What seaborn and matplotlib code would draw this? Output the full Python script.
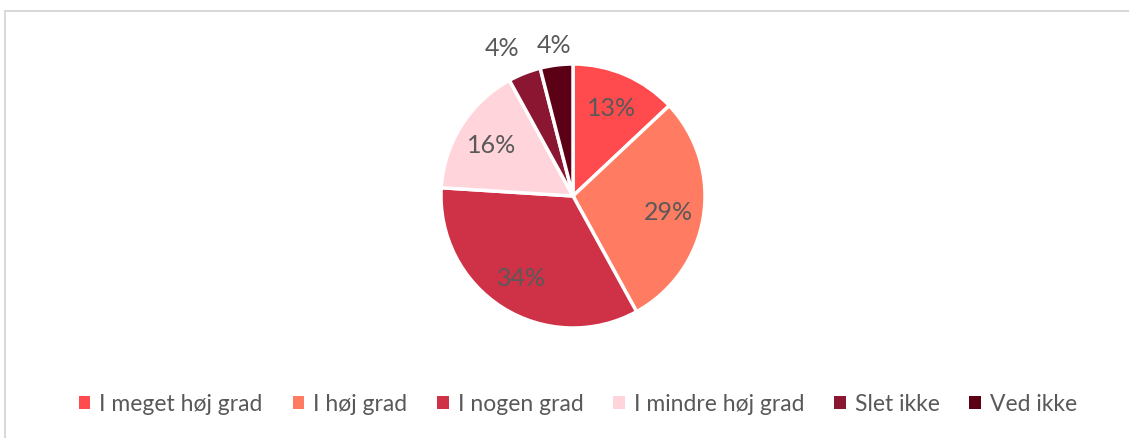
import matplotlib
matplotlib.use("Agg")
import matplotlib.pyplot as plt
import seaborn as sns
import numpy as np
from matplotlib.patches import Patch, Rectangle

# ── Datos ─────────────────────────────────────────────────────────────────────
categories = ["I meget høj grad", "I høj grad", "I nogen grad",
              "I mindre høj grad", "Slet ikke", "Ved ikke"]
values = [13, 29, 34, 16, 4, 4]
colors = ["#FF4B4D", "#FF7B61", "#CF3247", "#FFD5DB", "#8B1631", "#5C0016"]

sns.set_theme(style="white")
plt.rcParams["font.family"] = ["Lato", "DejaVu Sans"]
text_color = "#595959"

W, H = 1129, 439
fig = plt.figure(figsize=(W / 100, H / 100), dpi=100)

# marco del gráfico
fig.patches.append(Rectangle((5 / W, -0.1), 1.2, 1.1 - 12 / H,
                             transform=fig.transFigure, fill=False,
                             edgecolor="#D9D9D9", linewidth=1.5))

cx, cy, r = 573, 197, 132
ax = fig.add_axes([(cx - r) / W, (H - cy - r) / H, 2 * r / W, 2 * r / H])

wedges, texts, autotexts = ax.pie(
    values, colors=colors, startangle=90, counterclock=False,
    autopct=lambda p: f"{p:.0f}%", pctdistance=0.73,
    wedgeprops=dict(edgecolor="white", linewidth=2.5),
    textprops=dict(color=text_color, fontsize=18),
)
ax.set_xlim(-1, 1)
ax.set_ylim(-1, 1)
ax.set_aspect("equal")

# etiquetas fuera para los sectores pequeños (la primera algo más a la izquierda)
small = [i for i, w in enumerate(wedges) if w.theta2 - w.theta1 < 20]
for k, i in enumerate(small):
    w = wedges[i]
    shift, dist = (4, 1.25) if k == 0 else (0, 1.16)
    ang = np.deg2rad((w.theta1 + w.theta2) / 2 + shift)
    autotexts[i].set_position((dist * np.cos(ang), dist * np.sin(ang)))

handles = [Patch(facecolor=c, edgecolor="none") for c in colors]
fig.legend(handles, categories, loc="center", bbox_to_anchor=(578 / W, 1 - 405 / H),
           ncol=6, frameon=False, fontsize=16.5, labelcolor=text_color,
           handlelength=0.5, handleheight=0.5, handletextpad=0.4, columnspacing=1.3)

fig.savefig("out.png", dpi=100)
